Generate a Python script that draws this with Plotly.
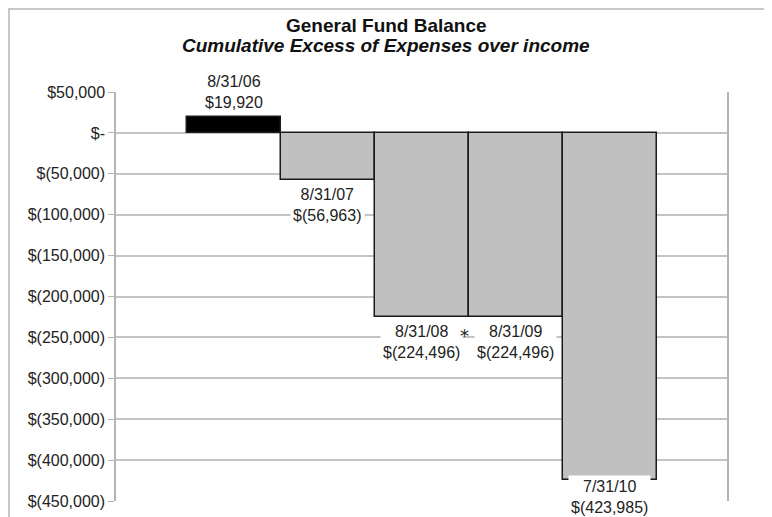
import plotly.graph_objects as go

# ---- data ----
dates = ["8/31/06", "8/31/07", "8/31/08", "8/31/09", "7/31/10"]
balances = [19920, -56963, -224496, -224496, -423985]
value_labels = ["$19,920", "$(56,963)", "$(224,496)", "$(224,496)", "$(423,985)"]
tick_values = [50000, 0, -50000, -100000, -150000, -200000, -250000, -300000, -350000, -400000, -450000]
tick_labels = ["$50,000", "$-", "$(50,000)", "$(100,000)", "$(150,000)", "$(200,000)",
               "$(250,000)", "$(300,000)", "$(350,000)", "$(400,000)", "$(450,000)"]
title_text = "General Fund Balance"
subtitle_text = "Cumulative Excess of Expenses over income"

FONT = "Arial, 'Liberation Sans', sans-serif"
fills = ["#000000" if v > 0 else "#c0c0c0" for v in balances]

fig = go.Figure()
fig.add_trace(go.Bar(
    x=dates, y=balances, width=1.0,
    marker=dict(color=fills, line=dict(color="#1a1a1a", width=1.5)),
    hoverinfo="skip", showlegend=False,
))

annotations = []
for i, (d, v, lab) in enumerate(zip(dates, balances, value_labels)):
    if v >= 0:
        yanchor, ysh = "bottom", 3
    else:
        yanchor, ysh = "top", -3
    if i == len(dates) - 1:
        ysh = 5  # pushed up to stay within chart area (as in Excel)
    annotations.append(dict(
        x=d, y=v, xref="x", yref="y", text=f"{d}<br>{lab}", showarrow=False,
        yanchor=yanchor, yshift=ysh, bgcolor="white", borderpad=2,
        font=dict(family=FONT, size=16, color="#222222"),
    ))

# asterisk next to the 8/31/08 label
annotations.append(dict(
    x=dates[2], y=balances[2], xref="x", yref="y", text="*", showarrow=False,
    xshift=43, yshift=-19, yanchor="middle",
    font=dict(family="'DejaVu Sans', sans-serif", size=18, color="#222222"),
))

annotations.append(dict(
    x=0.4419, y=1.1638, xref="paper", yref="paper", text=f"<b>{title_text}</b>",
    showarrow=False, xanchor="center", yanchor="middle",
    font=dict(family=FONT, size=19, color="#111111"),
))
annotations.append(dict(
    x=0.4419, y=1.1125, xref="paper", yref="paper", text=f"<b><i>{subtitle_text}</i></b>",
    showarrow=False, xanchor="center", yanchor="middle",
    font=dict(family=FONT, size=19, color="#111111"),
))

# page body adds an 8px offset, so the figure is sized to end at the window edge
fig.update_layout(
    width=764, height=509,
    margin=dict(l=108, r=45, t=84, b=16, pad=0),
    paper_bgcolor="white", plot_bgcolor="white",
    bargap=0,
    annotations=annotations,
    shapes=[dict(type="rect", xref="paper", yref="paper",
                 x0=-0.1751, x1=1.0638, y0=-0.3, y1=1.2029,
                 line=dict(color="#c8c8c8", width=2), fillcolor="rgba(0,0,0,0)",
                 layer="below")],
    xaxis=dict(type="category", range=[-1.25, 5.25], showticklabels=False,
               showgrid=False, zeroline=False, showline=False, ticks=""),
    yaxis=dict(range=[-450000, 50000], tickvals=tick_values, ticktext=tick_labels,
               showgrid=True, gridcolor="#c4c4c4", gridwidth=1.5,
               zeroline=False, showline=True, linecolor="#b4b4b4", linewidth=1.5,
               mirror=True, ticks="outside", ticklen=6, tickcolor="#b4b4b4",
               automargin=False,
               tickfont=dict(family=FONT, size=16, color="#222222")),
)

fig.write_html("out.html")
